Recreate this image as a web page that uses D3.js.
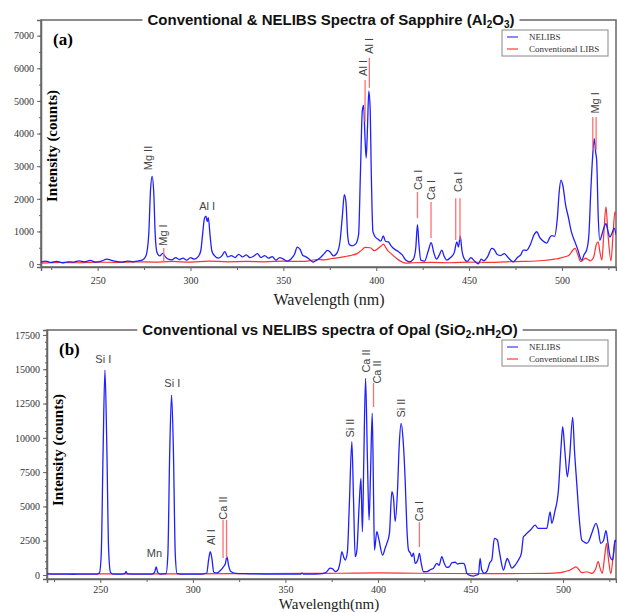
<!DOCTYPE html>
<html>
<head>
<meta charset="utf-8">
<script src="https://cdn.jsdelivr.net/npm/d3@7"></script>
<style>
  body { margin: 0; background: #fff; }
</style>
</head>
<body>
<div id="chart"></div>
<script>
// ---- data: [wavelength (nm), intensity (counts)] ----

// (a) Sapphire
const sapphireNelibs = [
  [219.5,60],[222,90],[225,50],[228,80],[231,40],[234,70],[237,60],[240,100],[243,70],[246,110],[249,60],[252,90],
  [255,150],[257,120],[260,80],[263,60],[266,90],[269,70],[272,100],[274,120],[276,250],[277.5,900],[278.5,2300],
  [279.3,2690],[280.2,2200],[281,900],[282,350],[283.5,250],[285,330],[286.5,220],[288,150],[290,130],[292,200],
  [294,140],[296,180],[298,120],[300,200],[302,150],[304,220],[305.5,400],[306.5,900],[307.5,1400],[308.3,1470],
  [309,1300],[309.6,1420],[310.5,900],[311.5,400],[313,250],[315,180],[317,260],[318.5,380],[320,220],[322,260],
  [324,200],[326,300],[328,220],[330,280],[332,200],[334,240],[336,320],[338,200],[340,260],[342,180],[344,230],
  [346,120],[348,200],[350,150],[352,90],[354,150],[356,300],[357.5,520],[359,450],[360.5,260],[362,230],[364,150],
  [366,60],[368,120],[370,200],[372,320],[373.7,420],[375,380],[377,250],[379,350],[380.5,700],[381.8,1500],
  [382.8,2130],[383.7,1900],[384.6,900],[385.5,600],[387,560],[389,620],[390.5,900],[391.5,2800],[392.5,4700],
  [393.2,4860],[394,3800],[394.6,3250],[395.3,4200],[396,5300],[396.7,4800],[397.4,2600],[398.2,1000],[399.5,830],
  [401,760],[402.5,700],[403.8,860],[405,700],[406.5,680],[408,560],[410,450],[412,380],[414,280],[416,120],[418,70],
  [420,150],[421.3,500],[422.2,1210],[423,600],[424,120],[426,90],[428,400],[429.6,660],[431,350],[432.5,150],
  [434,280],[435.3,430],[436.5,250],[438,120],[440,200],[442,350],[443.4,680],[444.3,520],[445.2,860],[446.2,400],
  [447.5,150],[449,80],[451,200],[453,90],[455,10],[456.5,150],[458,100],[460,230],[462.2,480],[463.5,450],[465,300],
  [467,260],[469,320],[471,200],[473.8,70],[476,200],[478,300],[479.2,430],[481,420],[483,600],[485,900],[486.4,990],
  [488,820],[489.5,720],[491.8,640],[493.5,820],[494.5,870],[496,850],[497.5,1400],[498.5,2200],[499.5,2570],
  [500.5,2400],[502,1800],[503.4,1450],[505,1000],[507,680],[508.5,450],[510.6,120],[512,300],[513.3,430],[514.5,900],
  [515.5,2200],[516.5,3280],[517.4,3840],[518.2,3400],[518.7,3180],[519.5,1500],[520.4,730],[521.5,900],[522.5,1100],
  [523.7,1240],[524.8,1000],[525.8,830],[527,950],[528.1,1100],[529.1,900]
];
const sapphireConv = [
  [219.5,30],[230,50],[240,40],[250,60],[260,50],[270,70],[280,60],[290,80],[300,60],[310,90],[320,70],[330,80],
  [340,70],[350,90],[360,80],[365,110],[368,140],[372,130],[376,170],[380,200],[383,230],[386,260],[389.6,320],
  [392,420],[394,510],[396.8,500],[399,410],[401,480],[402.8,560],[403.9,610],[405,520],[406,430],[408,320],[411,170],
  [413,90],[416,30],[420,40],[430,50],[440,40],[450,60],[460,50],[470,70],[480,80],[490,110],[496,150],[499,180],
  [502,230],[504,280],[505.5,400],[507,480],[508.5,300],[510,80],[511.5,130],[512.7,180],[514,140],[515.4,100],
  [517,200],[518.5,600],[519.5,680],[520.5,350],[521.5,120],[522.5,900],[523.7,1750],[524.8,900],[526.4,100],
  [527.5,900],[528.5,1600],[529.1,1500]
];
// peak labels: text, wavelength, intensity of label centre, rotated?
const sapphireLabels = [
  ["Mg II",277,3250,true],["Mg I",285.3,890,true],["Al I",309,1780,false],["Al I",392.9,6010,true],
  ["Al I",396.2,6690,true],["Ca I",422.4,2580,true],["Ca I",429.5,2270,true],["Ca I",443.9,2520,true],
  ["Mg I",517.9,4940,true]
];
// red marker lines: wavelength, from, to (counts)
const sapphireMarks = [
  [285.6,60,490],[394,4360,5640],[396.3,5400,6320],[422.2,1410,2210],[429.5,800,1900],
  [442.8,740,2020],[445.1,740,2020],[516.6,3500,4510],[518.4,3500,4510]
];
const sapphireYTicks = [0,1000,2000,3000,4000,5000,6000,7000];

// (b) Opal
const opalNelibs = [
  [221,80],[226,60],[230,70],[235,55],[240,70],[244,60],[248,60],[249.5,150],[250.5,1500],[251.5,9000],[252.5,14940],
  [253.5,9500],[254.5,1800],[255.5,200],[257,70],[262,70],[263.3,100],[263.9,260],[264.6,90],[270,60],[278,70],
  [279.3,200],[280.2,600],[281,200],[282.5,70],[285.5,100],[286.5,1500],[287.5,9000],[288.5,13120],[289.5,9000],
  [290.5,1500],[291.5,100],[295,60],[305,70],[307.5,150],[308.5,1100],[309.4,1700],[310.3,1200],[311.3,200],[313,150],
  [315,350],[316.5,600],[317.5,800],[318.4,1340],[319.3,700],[320.5,250],[323,120],[330,90],[340,70],[350,60],
  [358,70],[359,130],[360,60],[365,70],[370,100],[372,200],[374.2,500],[375.5,450],[377,250],[378.5,400],[379.5,900],
  [380.5,1700],[381.5,1300],[382.3,1090],[383.5,1700],[384.5,5000],[385.9,9720],[386.8,5500],[387.7,1340],[388.6,1800],
  [389.8,5000],[390.8,7050],[391.6,3160],[392.3,8000],[393.3,14340],[394.3,8500],[395.2,4010],[396,7500],[396.9,11790],
  [397.6,6000],[398.1,1820],[399.4,3160],[400.5,2600],[402.5,1460],[404,2000],[404.8,2310],[406.2,3040],[407.5,6070],
  [408.4,5600],[409.3,3890],[410.5,6000],[411.5,9500],[412.5,11060],[413.5,10000],[414.7,6920],[415.6,3500],
  [416.5,1820],[417.5,1600],[418.3,1340],[419.2,1600],[420.1,850],[421.5,1100],[422.4,1580],[423.3,900],[424.6,240],
  [426.5,250],[428.5,400],[430,500],[431.8,850],[433,700],[434.5,1340],[435.7,900],[437.2,560],[438.5,600],[440,900],
  [441.7,930],[443,800],[444.5,850],[446.2,850],[447,700],[448,120],[450,-50],[451.6,-80],[453,0],[454.3,60],
  [455.2,1220],[456,400],[457.5,120],[459,300],[460.4,900],[461.5,1100],[462.9,2670],[464.5,2550],[465.5,1800],
  [466.4,1090],[467.8,360],[469.2,1000],[469.9,1220],[471,900],[472.3,500],[474,700],[475.9,1090],[477.5,1600],
  [478.6,2790],[479.5,2900],[480.4,3040],[482.5,3300],[484.9,3640],[486.5,3400],[488.5,3400],[491.2,3400],[493,4610],
  [493.9,3770],[495.5,4600],[497.5,6200],[499,9500],[499.8,10810],[501,9000],[502.3,7160],[503.5,8500],[505.2,11490],
  [506.2,9000],[507.4,6680],[508.7,4200],[510.1,2550],[511.5,2400],[512.8,2310],[514,2500],[515.5,3040],[517.8,3770],
  [519,3300],[520.3,2310],[521.8,2500],[523.2,3230],[524.3,2300],[525.4,1340],[526.8,1090],[527.5,1800],[528.1,2550],
  [528.6,2400]
];
const opalConv = [
  [221,80],[240,80],[260,90],[280,80],[300,90],[320,100],[340,110],[360,120],[380,130],[400,150],[420,130],[440,110],
  [460,100],[480,110],[495,140],[498.4,170],[501,250],[503.8,360],[505.5,500],[507,600],[508.5,400],[510.1,170],
  [512.8,240],[515.5,120],[517.5,400],[519,970],[520,500],[521.2,120],[522.5,1400],[523.5,2310],[524.5,1200],
  [525.8,100],[527,1300],[528.1,2550],[528.6,2400]
];
const opalLabels = [
  ["Si I",251.6,15740,false],["Mn",279.2,1600,false],["Si I",288.9,14000,false],["Al I",309.9,2770,true],
  ["Ca II",316.6,4880,true],["Si II",385,10710,true],["Ca II",393.6,15600,true],["Ca II",399.4,14800,true],
  ["Si II",412.5,12170,true],["Ca I",422.4,4660,true]
];
const opalMarks = [
  [316.3,1240,4010],[318.2,1240,4010],[397.6,12240,14000],[422.4,2040,3860]
];
const opalYTicks = [0,2500,5000,7500,10000,12500,15000,17500];

const xTicks = [250,300,350,400,450,500];
const legendNames = ["NELIBS","Conventional LIBS"];
const blue = "#2020ff";
const red = "#ff3030";

// ---- drawing ----
const width = 617;
const height = 613;

const svg = d3.select("#chart")
  .append("svg")
  .attr("width", width)
  .attr("height", height)
  .style("background-color", "#fff");

function drawPanel(p) {
  const g = svg.append("g");

  const x = d3.scaleLinear().domain(p.xDomain).range([p.left, p.right]);
  const y = d3.scaleLinear().domain(p.yDomain).range([p.bottom, p.top]);

  const clipId = "clip-" + p.id;
  g.append("clipPath").attr("id", clipId)
    .append("rect")
    .attr("x", p.left).attr("y", p.top)
    .attr("width", p.right - p.left).attr("height", p.bottom - p.top);

  // frame
  g.append("rect")
    .attr("x", p.left).attr("y", p.top)
    .attr("width", p.right - p.left).attr("height", p.bottom - p.top)
    .attr("fill", "none").attr("stroke", "#666").attr("stroke-width", 1.5);

  // y axis: major + minor ticks
  g.append("g")
    .attr("transform", `translate(${p.left},0)`)
    .call(d3.axisLeft(y).tickValues(p.yTicks).tickSize(4).tickPadding(3).tickFormat(d3.format("d")));
  g.append("g")
    .attr("transform", `translate(${p.left},0)`)
    .call(d3.axisLeft(y).tickValues(d3.range(0, p.yDomain[1], p.yMinor)).tickSize(2).tickFormat(""))
    .call(a => a.select(".domain").remove());

  // x axis: labels every 50, ticks every 25
  g.append("g")
    .attr("transform", `translate(0,${p.bottom})`)
    .call(d3.axisBottom(x).tickValues(xTicks).tickSize(4).tickPadding(p.xPad).tickFormat(d3.format("d")));
  g.append("g")
    .attr("transform", `translate(0,${p.bottom})`)
    .call(d3.axisBottom(x).tickValues(d3.range(225, 530, 50)).tickSize(3).tickFormat(""))
    .call(a => a.select(".domain").remove());

  g.selectAll(".domain").attr("stroke", "#666").attr("stroke-width", 1.5);
  g.selectAll(".tick line").attr("stroke", "#666");
  g.selectAll(".tick text")
    .attr("fill", "#333")
    .style("font-family", "'Liberation Serif', 'Times New Roman', serif")
    .style("font-size", "10px");

  // spectra
  const line = d3.line()
    .x(d => x(d[0]))
    .y(d => y(d[1]))
    .curve(d3.curveMonotoneX);

  const plot = g.append("g").attr("clip-path", `url(#${clipId})`);
  plot.append("path").datum(p.conv)
    .attr("d", line).attr("fill", "none")
    .attr("stroke", red).attr("stroke-width", 1.2);
  plot.append("path").datum(p.nelibs)
    .attr("d", line).attr("fill", "none")
    .attr("stroke", blue).attr("stroke-width", 1.3);

  // marker lines
  g.selectAll(".mark").data(p.marks).enter()
    .append("line")
    .attr("x1", d => x(d[0])).attr("x2", d => x(d[0]))
    .attr("y1", d => y(d[1])).attr("y2", d => y(d[2]))
    .attr("stroke", "#ff7070").attr("stroke-width", 1.3);

  // peak labels
  g.selectAll(".peak").data(p.labels).enter()
    .append("text")
    .attr("transform", d => `translate(${x(d[1])},${y(d[2])})` + (d[3] ? " rotate(-90)" : ""))
    .attr("text-anchor", "middle")
    .attr("dy", "0.35em")
    .attr("fill", "#444")
    .style("font-family", "'Liberation Sans', Arial, sans-serif")
    .style("font-size", "11px")
    .text(d => d[0]);

  // title on top border with white backing
  const title = g.append("text")
    .attr("x", p.titleX).attr("y", p.top + 5)
    .attr("text-anchor", "middle")
    .attr("fill", "#111")
    .style("font-family", "'Liberation Sans', Arial, sans-serif")
    .style("font-size", "15px")
    .style("font-weight", "bold");
  let shift = 0;
  p.title.forEach(part => {
    const ts = title.append("tspan");
    if (part.sub) {
      ts.attr("dy", 3 - shift).style("font-size", "10px").text(part.sub);
      shift = 3;
    } else {
      ts.attr("dy", -shift).text(part.t);
      shift = 0;
    }
  });
  const bb = title.node().getBBox();
  g.insert("rect", () => title.node())
    .attr("x", bb.x - 5).attr("y", p.top - 3)
    .attr("width", bb.width + 10).attr("height", 6)
    .attr("fill", "#fff");

  // panel letter
  g.append("text")
    .attr("x", p.left + 12).attr("y", p.top + 25)
    .style("font-family", "'Liberation Serif', 'Times New Roman', serif")
    .style("font-size", "17px").style("font-weight", "bold")
    .text(p.letter);

  // axis titles
  g.append("text")
    .attr("transform", `translate(${p.left + 16},${p.yTitleY}) rotate(-90)`)
    .attr("text-anchor", "middle")
    .style("font-family", "'Liberation Serif', 'Times New Roman', serif")
    .style("font-size", "15px").style("font-weight", "bold")
    .text("Intensity (counts)");

  g.append("text")
    .attr("x", 329).attr("y", p.bottom + p.xTitleGap)
    .attr("text-anchor", "middle")
    .attr("fill", "#222")
    .style("font-family", "'Liberation Serif', 'Times New Roman', serif")
    .style("font-size", p.xTitleSize)
    .text(p.xTitle);

  // legend
  const lg = g.append("g").attr("transform", `translate(${p.legendX},${p.top + 10})`);
  lg.append("rect").attr("width", 106).attr("height", 26)
    .attr("fill", "#fff").attr("stroke", "#888").attr("stroke-width", 1);
  legendNames.forEach((name, i) => {
    lg.append("line")
      .attr("x1", 5).attr("x2", 16)
      .attr("y1", 7 + i * 12).attr("y2", 7 + i * 12)
      .attr("stroke", i === 0 ? "#6060ff" : "#ff6060").attr("stroke-width", 1.5);
    lg.append("text")
      .attr("x", 27).attr("y", 10 + i * 12)
      .attr("fill", "#333")
      .style("font-family", "'Liberation Serif', 'Times New Roman', serif")
      .style("font-size", "9px")
      .text(name);
  });
}

drawPanel({
  id: "a", left: 41, right: 616, top: 20, bottom: 267,
  xDomain: [219.5, 529.1], yDomain: [-90, 7480], yTicks: sapphireYTicks, yMinor: 500,
  nelibs: sapphireNelibs, conv: sapphireConv, labels: sapphireLabels, marks: sapphireMarks,
  title: [{t: "Conventional & NELIBS Spectra of Sapphire (Al"}, {sub: "2"}, {t: "O"}, {sub: "3"}, {t: ")"}],
  titleX: 331, letter: "(a)", yTitleY: 146, xPad: 6,
  xTitle: "Wavelength (nm)", xTitleGap: 38, xTitleSize: "16px", legendX: 502
});

drawPanel({
  id: "b", left: 47, right: 616, top: 330, bottom: 579,
  xDomain: [221.2, 528.6], yDomain: [-290, 17860], yTicks: opalYTicks, yMinor: 500,
  nelibs: opalNelibs, conv: opalConv, labels: opalLabels, marks: opalMarks,
  title: [{t: "Conventional vs NELIBS spectra of Opal (SiO"}, {sub: "2"}, {t: ".nH"}, {sub: "2"}, {t: "O)"}],
  titleX: 330, letter: "(b)", yTitleY: 450, xPad: 3,
  xTitle: "Wavelength(nm)", xTitleGap: 30, xTitleSize: "15px", legendX: 502
});
</script>
</body>
</html>
